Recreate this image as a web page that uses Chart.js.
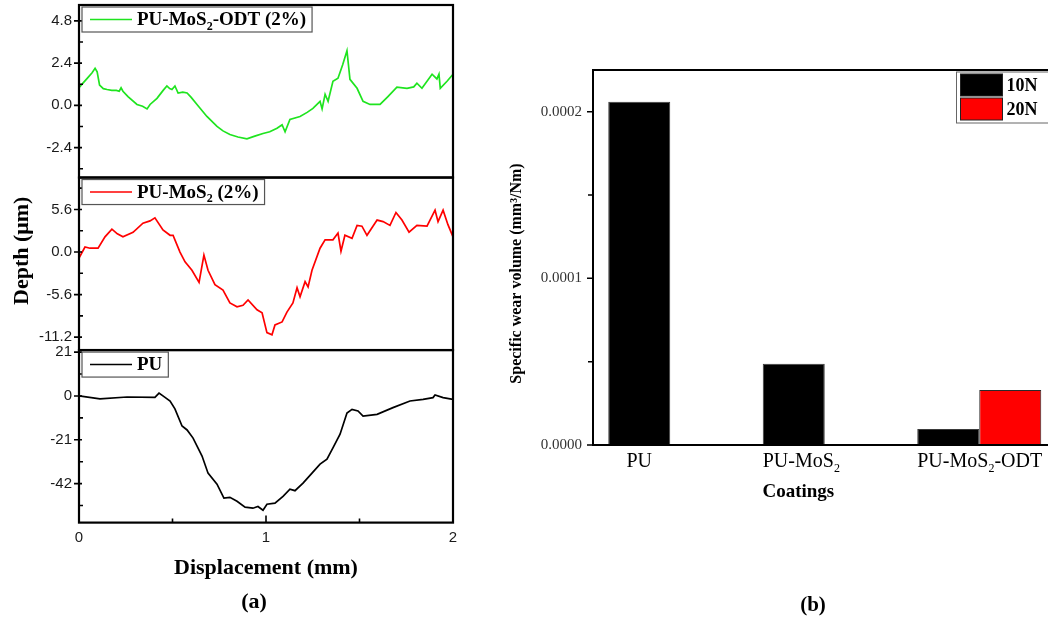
<!DOCTYPE html>
<html>
<head>
<meta charset="utf-8">
<script src="https://cdn.jsdelivr.net/npm/chart.js@4.4.1/dist/chart.umd.min.js"></script>
<style>
  html, body { margin: 0; padding: 0; background: #fff; overflow: hidden; }
  #wrap { position: relative; width: 1048px; height: 619px; overflow: hidden; }
  canvas { position: absolute; top: 0; }
  #profiles { left: 0; }
  #wear { left: 480px; }
</style>
</head>
<body>
<div id="wrap">
  <canvas id="profiles" width="508" height="619"></canvas>
  <canvas id="wear" width="662" height="619"></canvas>
</div>
<script>
// (a) depth profiles across the wear track (displacement in mm, depth in um)
const odtDisp = [0.000, 0.020, 0.045, 0.070, 0.086, 0.097, 0.110, 0.130, 0.150, 0.175, 0.200, 0.215, 0.225, 0.235, 0.262,
  0.310, 0.340, 0.364, 0.380, 0.417, 0.450, 0.470, 0.485, 0.497, 0.513, 0.530, 0.555, 0.578, 0.600, 0.631, 0.684, 0.738,
  0.770, 0.807, 0.850, 0.898, 0.940, 0.984, 1.020, 1.059, 1.086, 1.102, 1.128, 1.182, 1.220, 1.251, 1.289, 1.300, 1.316,
  1.332, 1.358, 1.385, 1.410, 1.433, 1.449, 1.487, 1.519, 1.556, 1.610, 1.652, 1.700, 1.754, 1.790, 1.807, 1.834, 1.888,
  1.914, 1.925, 1.932, 1.968, 2.000];
const odtDepth = [1.00, 1.25, 1.55, 1.85, 2.10, 1.90, 1.15, 0.95, 0.90, 0.85, 0.85, 0.80, 1.00, 0.80, 0.50,
  0.05, -0.05, -0.20, 0.05, 0.40, 0.85, 1.10, 0.95, 0.90, 1.10, 0.70, 0.75, 0.70, 0.45, 0.05, -0.63, -1.20,
  -1.45, -1.66, -1.80, -1.90, -1.75, -1.60, -1.50, -1.30, -1.10, -1.50, -0.80, -0.63, -0.40, -0.17, 0.23, -0.20, 0.63,
  0.23, 1.37, 1.54, 2.30, 3.10, 1.48, 0.97, 0.23, 0.05, 0.05, 0.50, 1.03, 0.97, 1.05, 1.26, 0.97, 1.77,
  1.50, 1.77, 0.97, 1.37, 1.77];

const mos2Disp = [0.000, 0.032, 0.059, 0.102, 0.139, 0.176, 0.205, 0.235, 0.289, 0.342, 0.380, 0.406, 0.449, 0.487, 0.503,
  0.513, 0.540, 0.567, 0.604, 0.642, 0.668, 0.690, 0.727, 0.770, 0.807, 0.845, 0.877, 0.904, 0.952, 0.979, 1.005, 1.032,
  1.048, 1.086, 1.112, 1.144, 1.166, 1.182, 1.209, 1.225, 1.246, 1.289, 1.316, 1.358, 1.385, 1.401, 1.422, 1.460, 1.487,
  1.513, 1.540, 1.594, 1.626, 1.663, 1.695, 1.727, 1.765, 1.807, 1.861, 1.904, 1.920, 1.947, 1.973, 2.000];
const mos2Depth = [-0.80, 0.66, 0.50, 0.50, 2.00, 3.00, 2.40, 2.00, 2.60, 3.80, 4.10, 4.50, 2.90, 2.20, 2.20,
  1.60, 0.00, -1.30, -2.40, -4.00, -0.40, -2.40, -4.30, -5.00, -6.70, -7.20, -7.00, -6.30, -7.60, -8.00, -10.60, -10.90,
  -9.60, -9.20, -7.90, -6.70, -4.70, -5.90, -3.90, -4.60, -2.40, 0.50, 1.60, 1.60, 2.50, 0.10, 2.20, 1.80, 3.50,
  3.40, 2.20, 4.20, 4.00, 3.50, 5.20, 4.20, 2.60, 3.50, 3.40, 5.50, 4.00, 5.50, 3.60, 2.00];

const puDisp = [0.000, 0.112, 0.257, 0.406, 0.428, 0.460, 0.487, 0.513, 0.551, 0.578, 0.610, 0.658, 0.690, 0.738, 0.775,
  0.807, 0.845, 0.888, 0.930, 0.957, 0.984, 1.005, 1.048, 1.091, 1.128, 1.155, 1.198, 1.246, 1.289, 1.326, 1.358, 1.396,
  1.433, 1.460, 1.492, 1.519, 1.594, 1.679, 1.770, 1.840, 1.893, 1.904, 1.947, 2.000];
const puDepth = [0.0, -1.4, -0.5, -0.7, 1.4, -0.7, -2.4, -6.2, -14.4, -16.3, -20.2, -28.8, -37.0, -42.3, -49.0,
  -48.6, -50.5, -53.3, -53.8, -53.0, -54.8, -51.9, -51.4, -48.1, -44.7, -45.4, -41.8, -37.0, -32.7, -30.3, -24.9, -18.3,
  -8.2, -6.4, -7.2, -9.6, -8.8, -5.6, -2.4, -1.6, -0.8, 0.5, -0.8, -1.6];

const profileLabels = ['PU-MoS₂-ODT (2%)', 'PU-MoS₂ (2%)', 'PU'];
const odtTicks = [-2.4, 0, 2.4, 4.8];
const mos2Ticks = [-11.2, -5.6, 0, 5.6];
const puTicks = [-42, -21, 0, 21];
const dispTicks = [0, 1, 2];

// (b) specific wear volume per coating
const coatings = ['PU', 'PU-MoS₂', 'PU-MoS₂-ODT'];
const loads = ['10N', '20N'];
const wear10N = [0.000206, 0.0000488, 0.0000096];
const wear20N = [null, null, 0.000033];
const wearTicks = [0, 0.0001, 0.0002];

const SERIF = '"Liberation Serif", "Times New Roman", serif';
const SANS = '"Liberation Sans", Arial, sans-serif';

// majors plus a minor tick halfway between them (and past the ends while inside the range)
function withMinor(majors, min, max) {
  const half = (majors[1] - majors[0]) / 2;
  const seen = new Set(majors.map(v => v.toFixed(6)));
  const out = majors.map(v => ({ value: v }));
  majors.forEach(m => {
    [m - half, m + half].forEach(v => {
      const k = v.toFixed(6);
      if (v >= min && v <= max && !seen.has(k)) { seen.add(k); out.push({ value: v, minor: true }); }
    });
  });
  return out.sort((a, b) => a.value - b.value);
}

// text with '₂' drawn as a small lowered 2
function drawRich(ctx, text, x, y, size, weight, align) {
  const parts = [];
  for (const ch of text) {
    const sub = ch === '₂';
    const last = parts[parts.length - 1];
    if (last && last.sub === sub) last.t += sub ? '2' : ch;
    else parts.push({ sub, t: sub ? '2' : ch });
  }
  const big = `${weight} ${size}px ${SERIF}`;
  const small = `${weight} ${Math.round(size * 0.62)}px ${SERIF}`;
  let w = 0;
  parts.forEach(p => { ctx.font = p.sub ? small : big; p.w = ctx.measureText(p.t).width; w += p.w; });
  let cx = align === 'center' ? x - w / 2 : align === 'right' ? x - w : x;
  ctx.textAlign = 'left';
  ctx.textBaseline = 'middle';
  parts.forEach(p => {
    ctx.font = p.sub ? small : big;
    ctx.fillText(p.t, cx, y + (p.sub ? size * 0.32 : 0));
    cx += p.w;
  });
  return w;
}

function richWidth(ctx, text, size, weight) {
  let w = 0;
  for (const ch of text) {
    ctx.font = ch === '₂' ? `${weight} ${Math.round(size * 0.62)}px ${SERIF}` : `${weight} ${size}px ${SERIF}`;
    w += ctx.measureText(ch === '₂' ? '2' : ch).width;
  }
  return w;
}

function drawVertical(ctx, text, x, y, size) {
  ctx.save();
  ctx.translate(x, y);
  ctx.rotate(-Math.PI / 2);
  ctx.fillStyle = '#000';
  ctx.font = `bold ${size}px ${SERIF}`;
  ctx.textAlign = 'center';
  ctx.textBaseline = 'middle';
  ctx.fillText(text, 0, 0);
  ctx.restore();
}

// tick marks on a left axis (vertical) or a bottom axis (horizontal)
function tickMarks(ctx, scale, edge, major, minor) {
  ctx.beginPath();
  scale.ticks.forEach(t => {
    const [out, inn] = t.minor ? minor : major;
    const p = scale.getPixelForValue(t.value);
    if (scale.isHorizontal()) { ctx.moveTo(p, edge + out); ctx.lineTo(p, edge - inn); }
    else { ctx.moveTo(edge - out, p); ctx.lineTo(edge + inn, p); }
  });
  ctx.stroke();
}

function depthAxis(ticks, min, max, decimals) {
  return {
    type: 'linear', position: 'left', stack: 'depth', stackWeight: 1, min, max,
    afterBuildTicks: s => { s.ticks = withMinor(ticks, min, max); },
    afterFit: s => { s.width = 79; s.paddingTop = 0; s.paddingBottom = 0; },
    grid: { display: false, drawTicks: true, tickLength: 4 },
    border: { display: false },
    ticks: {
      autoSkip: false, padding: 3, color: '#1a1a1a', font: { family: SANS, size: 15 },
      callback: (v, i, t) => t[i].minor ? '' : v.toFixed(decimals)
    }
  };
}

const profileFrames = {
  id: 'profileFrames',
  afterDraw(chart) {
    const { ctx, chartArea: ca, scales } = chart;
    ctx.save();
    ctx.strokeStyle = '#000';
    ctx.lineWidth = 1.6;
    ['yOdt', 'yMos2', 'yPu'].forEach(id => tickMarks(ctx, scales[id], ca.left, [5, 3], [0, 4]));
    tickMarks(ctx, scales.x, ca.bottom, [0, 7], [0, 4]);
    ctx.lineWidth = 2.2;
    ['yOdt', 'yMos2', 'yPu'].forEach(id => {
      const s = scales[id];
      ctx.strokeRect(ca.left, s.top, ca.right - ca.left, s.bottom - s.top);
    });

    // one boxed legend entry in the corner of each panel
    chart.data.datasets.forEach(ds => {
      const s = scales[ds.yAxisID];
      const bx = ca.left + 3, by = s.top + 2, bh = 25;
      const tw = richWidth(ctx, ds.label, 19, 'bold');
      const bw = tw + 61;
      ctx.fillStyle = '#fff';
      ctx.fillRect(bx, by, bw, bh);
      ctx.strokeStyle = '#555';
      ctx.lineWidth = 1.2;
      ctx.strokeRect(bx, by, bw, bh);
      ctx.strokeStyle = ds.borderColor;
      ctx.lineWidth = 1.6;
      ctx.beginPath();
      ctx.moveTo(bx + 8, by + bh / 2);
      ctx.lineTo(bx + 50, by + bh / 2);
      ctx.stroke();
      ctx.fillStyle = '#000';
      drawRich(ctx, ds.label, bx + 55, by + bh / 2 + 1, 19, 'bold', 'left');
    });

    drawVertical(ctx, 'Depth (μm)', ca.left - 57, (ca.top + ca.bottom) / 2 - 13, 22);
    ctx.fillStyle = '#000';
    drawRich(ctx, '(a)', (ca.left + ca.right) / 2 - 12, ca.bottom + 80, 22, 'bold', 'center');
    ctx.restore();
  }
};

new Chart(document.getElementById('profiles'), {
  type: 'line',
  data: {
    datasets: [
      { label: profileLabels[0], yAxisID: 'yOdt', data: odtDisp.map((x, i) => ({ x, y: odtDepth[i] })), borderColor: '#1fe41f' },
      { label: profileLabels[1], yAxisID: 'yMos2', data: mos2Disp.map((x, i) => ({ x, y: mos2Depth[i] })), borderColor: '#ff0000' },
      { label: profileLabels[2], yAxisID: 'yPu', data: puDisp.map((x, i) => ({ x, y: puDepth[i] })), borderColor: '#000000' }
    ]
  },
  options: {
    responsive: false,
    animation: false,
    parsing: false,
    datasets: { line: { borderWidth: 1.7, pointRadius: 0, tension: 0, fill: false } },
    layout: { padding: { left: 0, top: 5, right: 55, bottom: 37 } },
    plugins: { legend: { display: false }, tooltip: { enabled: false } },
    scales: {
      x: {
        type: 'linear', min: 0, max: 2,
        afterBuildTicks: s => { s.ticks = withMinor(dispTicks, 0, 2); },
        grid: { display: false, drawTicks: false },
        border: { display: false },
        ticks: {
          autoSkip: false, maxRotation: 0, padding: 6, color: '#1a1a1a', font: { family: SANS, size: 15 },
          callback: (v, i, t) => t[i].minor ? '' : String(v)
        },
        title: {
          display: true, text: 'Displacement (mm)', color: '#000',
          font: { family: SERIF, size: 22, weight: 'bold' }, padding: { top: 3, bottom: 0 }
        }
      },
      yPu: depthAxis(puTicks, -60.7, 22, 0),
      yMos2: depthAxis(mos2Ticks, -12.9, 9.8, 1),
      yOdt: depthAxis(odtTicks, -4.1, 5.7, 1)
    }
  },
  plugins: [profileFrames]
});

const wearFrames = {
  id: 'wearFrames',
  afterDraw(chart) {
    const { ctx, chartArea: ca, scales } = chart;
    ctx.save();
    ctx.strokeStyle = '#000';
    ctx.lineWidth = 1.5;
    tickMarks(ctx, scales.y, ca.left, [6, 0], [5, 0]);
    ctx.lineWidth = 2;
    ctx.strokeRect(ca.left, ca.top, ca.right - ca.left, ca.bottom - ca.top);

    // category labels: centred on the 10N bar, never starting left of it
    const bars = chart.getDatasetMeta(0).data;
    const centers = [];
    ctx.fillStyle = '#000';
    coatings.forEach((name, i) => {
      const b = bars[i];
      const w = richWidth(ctx, name, 20, 'normal');
      const x0 = Math.max(b.x - w / 2, b.x - b.width / 2);
      drawRich(ctx, name, x0, ca.bottom + 17, 20, 'normal', 'left');
      centers.push(x0 + w / 2);
    });
    drawRich(ctx, 'Coatings', centers[1] - 3, ca.bottom + 47, 19, 'bold', 'center');
    const groupMid = (bars[1].x + bars[1].width / 2);
    drawRich(ctx, '(b)', (centers[1] + groupMid) / 2, ca.bottom + 161, 21, 'bold', 'center');

    drawVertical(ctx, 'Specific wear volume (mm³/Nm)', ca.left - 76, (ca.top + ca.bottom) / 2 + 16, 16);

    // load legend in the top-right corner
    const lx = ca.right - 100, ly = ca.top + 2, rh = 24;
    ctx.fillStyle = '#fff';
    ctx.fillRect(lx, ly, 98, rh * chart.data.datasets.length + 3);
    ctx.strokeStyle = '#666';
    ctx.lineWidth = 1;
    ctx.strokeRect(lx, ly, 98, rh * chart.data.datasets.length + 3);
    chart.data.datasets.forEach((ds, i) => {
      const ry = ly + 2 + i * rh;
      ctx.fillStyle = ds.backgroundColor;
      ctx.fillRect(lx + 4, ry, 42, rh - 2);
      ctx.strokeStyle = '#222';
      ctx.strokeRect(lx + 4, ry, 42, rh - 2);
      ctx.fillStyle = '#000';
      drawRich(ctx, ds.label, lx + 50, ry + rh / 2, 18, 'bold', 'left');
    });
    ctx.restore();
  }
};

new Chart(document.getElementById('wear'), {
  type: 'bar',
  data: {
    labels: coatings,
    datasets: [
      { label: loads[0], data: wear10N, backgroundColor: '#000000', borderColor: '#3a3a3a' },
      { label: loads[1], data: wear20N, backgroundColor: '#ff0000', borderColor: '#2a2a2a' }
    ]
  },
  options: {
    responsive: false,
    animation: false,
    datasets: { bar: { borderWidth: 1, categoryPercentage: 0.8026, barPercentage: 1 } },
    layout: { padding: { left: 0, top: 70, right: 85.5, bottom: 174 } },
    plugins: { legend: { display: false }, tooltip: { enabled: false } },
    scales: {
      x: {
        type: 'category', offset: true,
        grid: { display: false, drawTicks: false },
        border: { display: false },
        ticks: { display: false }
      },
      y: {
        min: 0, max: 0.000225,
        afterBuildTicks: s => { s.ticks = withMinor(wearTicks, 0, 0.000225); },
        afterFit: s => { s.width = 113; s.paddingTop = 0; s.paddingBottom = 0; },
        grid: { display: false, drawTicks: true, tickLength: 6 },
        border: { display: false },
        ticks: {
          autoSkip: false, padding: 5, color: '#333', font: { family: SERIF, size: 15 },
          callback: (v, i, t) => t[i].minor ? '' : v.toFixed(4)
        }
      }
    }
  },
  plugins: [wearFrames]
});
</script>
</body>
</html>
